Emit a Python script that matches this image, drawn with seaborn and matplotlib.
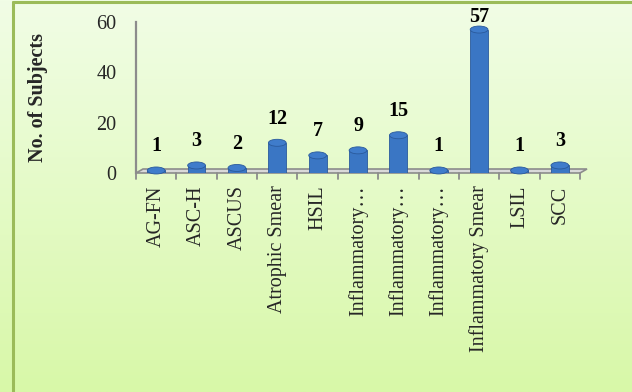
import numpy as np
import pandas as pd
import matplotlib
matplotlib.use("Agg")
import matplotlib.pyplot as plt
import seaborn as sns
from matplotlib.lines import Line2D
from matplotlib.patches import Ellipse, Polygon
from matplotlib.colors import LinearSegmentedColormap

categories = ["AG-FN", "ASC-H", "ASCUS", "Atrophic Smear", "HSIL", "Inflammatory\u2026",
              "Inflammatory\u2026", "Inflammatory\u2026", "Inflammatory Smear", "LSIL", "SCC"]
values = [1, 3, 2, 12, 7, 9, 15, 1, 57, 1, 3]
yticks = [0, 20, 40, 60]

sns.set_theme(style="white")
plt.rcParams['font.family'] = ['Liberation Serif', 'DejaVu Serif']

W, H = 632, 392
fig = plt.figure(figsize=(W / 100, H / 100), dpi=100)

# gradient background
bg = fig.add_axes([0, 0, 1, 1], zorder=-10)
grad = np.linspace(0, 1, 256).reshape(-1, 1)
cmap = LinearSegmentedColormap.from_list("g", ["#f1fde6", "#d8f8a8"])
bg.imshow(grad, aspect="auto", cmap=cmap, extent=[0, 1, 0, 1], origin="upper")
bg.set_axis_off()

# frame
fig.add_artist(Line2D([13/W, 13/W], [0, 1 - 2/H], color="#9bbb59", lw=2.2, transform=fig.transFigure))
fig.add_artist(Line2D([13/W, 1], [1 - 2/H, 1 - 2/H], color="#9bbb59", lw=2.2, transform=fig.transFigure))

x0, x1, ytop, ybot = 136, 580, 22, 173
ax = fig.add_axes([x0/W, 1 - ybot/H, (x1 - x0)/W, (ybot - ytop)/H])
ax.patch.set_alpha(0)

df = pd.DataFrame({"idx": list(range(len(categories))), "val": values})
sns.barplot(data=df, x="idx", y="val", ax=ax, color="#3a76c4", width=0.44,
            edgecolor="#2a5a9c", linewidth=0.6, saturation=1, zorder=3)

n = len(categories)
ax.set_ylim(0, 60)
ax.set_xlim(-0.5, n - 0.5)

px_x = (n) / (x1 - x0)      # data units per pixel (x)
px_y = 60 / (ybot - ytop)   # data units per pixel (y)

# rounded caps on bars
for i, v in enumerate(values):
    ax.add_patch(Ellipse((i, v), 0.44, 7 * px_y, facecolor="#3f7ccb",
                         edgecolor="#2a5a9c", lw=0.6, zorder=4, clip_on=False))

ax.set_yticks(yticks)
ax.set_yticklabels([str(t) for t in yticks], fontsize=14.5)
ax.set_xticks(range(n))
ax.set_xticklabels(categories, rotation=90, fontsize=14.5, va="top")
ax.tick_params(axis="x", length=0, pad=9)
ax.tick_params(axis="y", length=6, color="#8c8c8c", direction="out", width=1.3, pad=8)
ax.set_xlabel("")
ax.set_ylabel("No. of Subjects", fontsize=14.5, fontweight="bold")
ax.yaxis.set_label_coords(-(x0 - 48) / (x1 - x0), 0.5)

for s in ["top", "right", "bottom"]:
    ax.spines[s].set_visible(False)
ax.spines["left"].set_color("#8c8c8c")
ax.spines["left"].set_linewidth(1.6)

# 3D floor
dx, dy = 7 * px_x, 4 * px_y
floor = Polygon([(-0.5, 0), (n - 0.5, 0), (n - 0.5 + dx, dy), (-0.5 + dx, dy)],
                closed=True, facecolor="#d9d9d9", edgecolor="#8c8c8c", lw=1.2,
                clip_on=False, zorder=2)
ax.add_patch(floor)

# floor tick marks at category boundaries
for b in np.arange(-0.5, n, 1.0):
    ax.plot([b, b], [0, -6 * px_y], color="#8c8c8c", lw=1.3, clip_on=False, zorder=2)

# value labels (kept inside the chart area like the original)
for i, v in enumerate(values):
    xd, yd = ax.transData.transform((i, v))
    ylab = yd + 14
    top_limit = fig.bbox.height - 27
    ylab = min(ylab, top_limit)
    fig.text(xd / fig.bbox.width, ylab / fig.bbox.height, str(v), ha="center", va="bottom",
             fontsize=14.5, fontweight="bold", color="black")

fig.savefig("out.png", dpi=100)
